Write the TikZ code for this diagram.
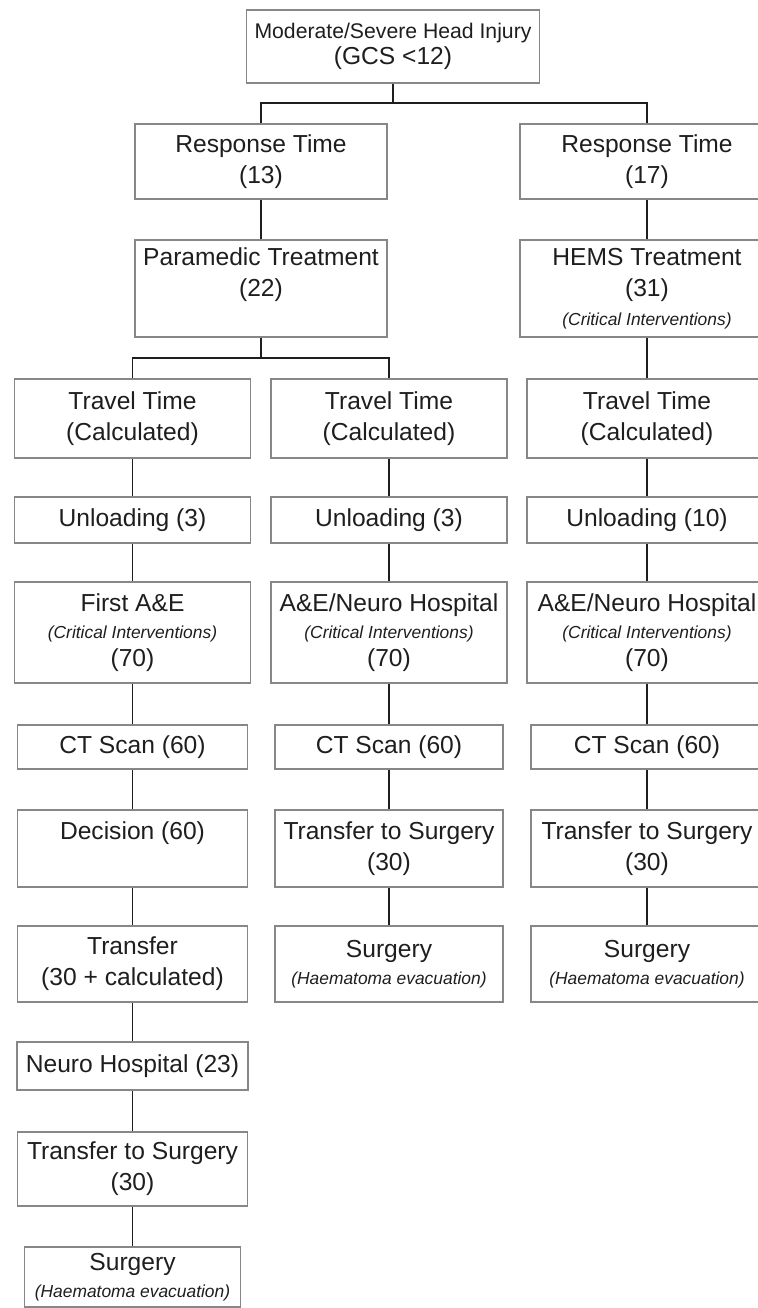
\documentclass[tikz,border=0pt]{standalone}
\usepackage{fontspec}
\setmainfont{Liberation Sans}
\definecolor{boxgrey}{RGB}{135,135,135}
\definecolor{inkgrey}{RGB}{30,30,30}
\tikzset{
	stepnode/.style={draw=boxgrey, line width=0.9pt, inner sep=0, align=center, text=inkgrey, font=\fontsize{12.3}{15.5}\selectfont},
	link/.style={draw=inkgrey, line width=0.75pt},
}
\newcommand{\smallnote}[1]{{\fontsize{8.7}{10}\selectfont\itshape #1}}

\begin{document}
\begin{tikzpicture}[x=0.5pt, y=-0.5pt]
	\clip (0,0) rectangle (758,1308);
	% Top and first split:
	\node[stepnode, minimum width=146.5pt, minimum height=36.5pt] (injury) at (393, 46.5) {{\fontsize{10.6}{13}\selectfont Moderate/Severe Head Injury}\\[-2.5pt](GCS <12)};
	\node[stepnode, minimum width=126pt, minimum height=37.5pt] (rtA) at (261, 161.5) {Response Time\\(13)};
	\node[stepnode, minimum width=127pt, minimum height=37.5pt] (rtC) at (647, 161.5) {Response Time\\(17)};
	\node[stepnode, minimum width=126pt, minimum height=48.5pt] (ptA) at (261, 288.5) {Paramedic Treatment\\(22)\\[-1pt]\smallnote{\phantom{(}}};
	\node[stepnode, minimum width=127pt, minimum height=48.5pt] (hemsC) at (647, 288.5) {HEMS Treatment\\(31)\\[-1pt]\smallnote{(Critical Interventions)}};
	\coordinate (j1) at (393, 103);
	\coordinate (j2) at (261, 358);
	% Left column:
	\node[stepnode, minimum width=118pt, minimum height=39.5pt] (travA) at (132.5, 418.5) {Travel Time\\(Calculated)};
	\node[stepnode, minimum width=118pt, minimum height=23pt] (unlA) at (132.5, 520) {Unloading (3)};
	\node[stepnode, minimum width=118pt, minimum height=50.5pt] (aeA) at (132.5, 632.5) {First A\&E\\[-1.7pt]\smallnote{(Critical Interventions)}\\[-1.7pt](70)};
	\node[stepnode, minimum width=115pt, minimum height=22pt] (ctA) at (132.5, 747) {CT Scan (60)};
	\node[stepnode, minimum width=115pt, minimum height=38.5pt] (decA) at (132.5, 848.5) {Decision (60)\\\phantom{(30)}};
	\node[stepnode, minimum width=115pt, minimum height=38pt] (trA) at (132.5, 964) {Transfer\\(30 + calculated)};
	\node[stepnode, minimum width=115.5pt, minimum height=24pt] (neuA) at (132.5, 1066) {Neuro Hospital (23)};
	\node[stepnode, minimum width=115pt, minimum height=37pt] (tsA) at (132.5, 1169) {Transfer to Surgery\\(30)};
	\node[stepnode, minimum width=108pt, minimum height=30pt] (surA) at (132.5, 1277) {Surgery\\[-2pt]\smallnote{(Haematoma evacuation)}};
	% Middle column:
	\node[stepnode, minimum width=118pt, minimum height=39.5pt] (travB) at (389, 418.5) {Travel Time\\(Calculated)};
	\node[stepnode, minimum width=118pt, minimum height=23pt] (unlB) at (389, 520) {Unloading (3)};
	\node[stepnode, minimum width=118pt, minimum height=50.5pt] (aeB) at (389, 632.5) {A\&E/Neuro Hospital\\[-1.7pt]\smallnote{(Critical Interventions)}\\[-1.7pt](70)};
	\node[stepnode, minimum width=114pt, minimum height=22pt] (ctB) at (389, 747) {CT Scan (60)};
	\node[stepnode, minimum width=114pt, minimum height=38.5pt] (tsB) at (389, 848.5) {Transfer to Surgery\\(30)};
	\node[stepnode, minimum width=114pt, minimum height=38pt] (surB) at (389, 964) {Surgery\\[-2pt]\smallnote{(Haematoma evacuation)}};
	% Right column:
	\node[stepnode, minimum width=120pt, minimum height=39.5pt] (travC) at (647, 418.5) {Travel Time\\(Calculated)};
	\node[stepnode, minimum width=120pt, minimum height=23pt] (unlC) at (647, 520) {Unloading (10)};
	\node[stepnode, minimum width=120pt, minimum height=50.5pt] (aeC) at (647, 632.5) {A\&E/Neuro Hospital\\[-1.7pt]\smallnote{(Critical Interventions)}\\[-1.7pt](70)};
	\node[stepnode, minimum width=116pt, minimum height=22pt] (ctC) at (647, 747) {CT Scan (60)};
	\node[stepnode, minimum width=116pt, minimum height=38.5pt] (tsC) at (647, 848.5) {Transfer to Surgery\\(30)};
	\node[stepnode, minimum width=116pt, minimum height=38pt] (surC) at (647, 964) {Surgery\\[-2pt]\smallnote{(Haematoma evacuation)}};
	% Connectors:
	\draw[link] (injury.south) -- (j1);
	\draw[link] (rtA.north) |- (j1) -| (rtC.north);
	\draw[link] (ptA.south) -- (j2);
	\draw[link] (travA.north) |- (j2) -| (travB.north);
	\foreach \a/\b in {rtA/ptA, rtC/hemsC, hemsC/travC,
		travA/unlA, unlA/aeA, aeA/ctA, ctA/decA, decA/trA, trA/neuA, neuA/tsA, tsA/surA,
		travB/unlB, unlB/aeB, aeB/ctB, ctB/tsB, tsB/surB,
		travC/unlC, unlC/aeC, aeC/ctC, ctC/tsC, tsC/surC}
		\draw[link] (\a.south) -- (\b.north);
\end{tikzpicture}
\end{document}
